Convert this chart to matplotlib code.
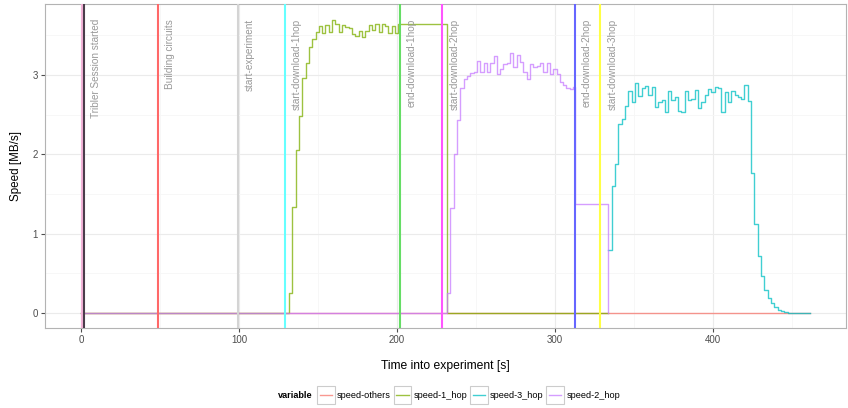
import numpy as np
import matplotlib
matplotlib.use("Agg")
import matplotlib.pyplot as plt
from matplotlib.legend_handler import HandlerBase
from matplotlib.patches import Rectangle
from matplotlib.lines import Line2D

plt.rcParams['font.family'] = ['Liberation Sans', 'DejaVu Sans']

# speed samples are taken roughly every 2.1 s
sample_step = 2.1

# speed-others stays flat for the whole run
others_time = [0.25, 461.3]
others_speed = [0.0, 0.0]

# 1 hop download
hop1_start = 131.7
hop1_speed = [0.256, 1.34, 2.06, 2.48, 2.96, 3.15, 3.35, 3.45, 3.55, 3.62,
              3.535, 3.63, 3.55, 3.70, 3.65, 3.55, 3.63, 3.61, 3.60, 3.52,
              3.49, 3.56, 3.48, 3.56, 3.63, 3.57, 3.64, 3.55, 3.64, 3.62,
              3.535, 3.62, 3.535, 3.65]
hop1_drop = 232.0
hop1_end = 333.8

# 2 hop download
hop2_start = 231.8
hop2_speed = [0.25, 1.33, 2.0, 2.434, 2.833, 2.947, 2.988, 3.022, 3.043, 3.183,
              3.043, 3.157, 3.043, 3.157, 3.241, 3.010, 3.073, 3.140, 3.148,
              3.274, 3.106, 3.254, 3.170, 3.043, 2.947, 3.140, 3.106, 3.115,
              3.148, 3.043, 3.157, 3.014, 3.073, 3.010, 2.917, 2.875, 2.833,
              2.821, 2.846]
hop2_tail_time = [312.8, 333.8]
hop2_tail_speed = [1.37, 0.0]

# 3 hop download
hop3_start = 334.0
hop3_speed = [0.79, 1.6, 1.875, 2.38, 2.447, 2.61, 2.804, 2.657, 2.896, 2.741,
              2.833, 2.867, 2.749, 2.854, 2.602, 2.665, 2.686, 2.531, 2.804,
              2.686, 2.728, 2.547, 2.539, 2.800, 2.686, 2.699, 2.812, 2.581,
              2.665, 2.749, 2.825, 2.791, 2.854, 2.842, 2.539, 2.791, 2.665,
              2.800, 2.749, 2.728, 2.699, 2.875, 2.674, 1.76, 1.12, 0.72,
              0.47, 0.29, 0.185, 0.12, 0.07, 0.04, 0.025, 0.012, 0.005,
              0.002, 0.0]
hop3_end = 461.3

# experiment events
event_times = [0.5, 2.1, 48.9, 99.3, 129.1, 202.0, 228.9, 312.9, 328.9]
event_labels = ['', 'Tribler Session started', 'Building circuits',
                'start-experiment', 'start-download-1hop', 'end-download-1hop',
                'start-download-2hop', 'end-download-2hop', 'start-download-3hop']
event_colors = ['#f3b3d8', '#4b3d4b', '#ff6868', '#d4d4d4', '#66ffff',
                '#66dd66', '#ff55ff', '#6666ff', '#ffff44']

series_names = ['speed-others', 'speed-1_hop', 'speed-3_hop', 'speed-2_hop']
series_colors = ['#F8766D', '#7CAE00', '#00BFC4', '#C77CFF']

# build step series
t1 = [0.25] + list(hop1_start + sample_step * np.arange(len(hop1_speed))) + [hop1_drop, hop1_end]
v1 = [0.0] + hop1_speed + [0.0, 0.0]
t2 = [0.25] + list(hop2_start + sample_step * np.arange(len(hop2_speed))) + hop2_tail_time
v2 = [0.0] + hop2_speed + hop2_tail_speed
t3 = list(hop3_start + sample_step * np.arange(len(hop3_speed))) + [hop3_end]
v3 = hop3_speed + [0.0]

series = {
    'speed-others': (others_time, others_speed),
    'speed-1_hop': (t1, v1),
    'speed-3_hop': (t3, v3),
    'speed-2_hop': (t2, v2),
}


class KeyBox(HandlerBase):
    # ggplot-like legend key: grey bordered square with a line inside,
    # centred on the label text
    def create_artists(self, legend, orig_handle, xdescent, ydescent,
                       width, height, fontsize, trans):
        yc = 0.33 * fontsize
        box = Rectangle((-xdescent, yc - width / 2), width, width,
                        facecolor='white', edgecolor='#cccccc',
                        linewidth=0.8, transform=trans)
        line = Line2D([-xdescent + 2, -xdescent + width - 2], [yc, yc],
                      color=orig_handle.get_color(), alpha=orig_handle.get_alpha(),
                      linewidth=1.0, transform=trans)
        return [box, line]


fig = plt.figure(figsize=(8.48, 4.08), dpi=100)
ax = fig.add_axes([45 / 848, 1 - 328 / 408, 801 / 848, 324 / 408])

handles = []
for name, color in zip(series_names, series_colors):
    t, v = series[name]
    h, = ax.plot(t, v, drawstyle='steps-post', color=color, lw=1.0, alpha=0.75,
                 zorder=3, label=name)
    handles.append(h)

for t, lab, c in zip(event_times, event_labels, event_colors):
    ax.axvline(t, color=c, lw=1.5, zorder=4)
    if lab:
        ax.text(t + 4.4, 3.71, lab, rotation=90, ha='left', va='top',
                fontsize=7.2, color='#999999', zorder=5)

ax.set_xlim(-22.8, 484.4)
ax.set_ylim(-0.189, 3.897)
ax.set_xticks([0, 100, 200, 300, 400])
ax.set_yticks([0, 1, 2, 3])
ax.set_xticks([50, 150, 250, 350, 450], minor=True)
ax.set_yticks([0.5, 1.5, 2.5, 3.5], minor=True)
ax.grid(which='major', color='#ebebeb', lw=0.8, zorder=0)
ax.grid(which='minor', color='#f6f6f6', lw=0.6, zorder=0)
ax.set_axisbelow(True)
ax.tick_params(which='major', length=3, width=0.8, color='#4d4d4d',
               labelsize=7, labelcolor='#4d4d4d', pad=2)
ax.tick_params(which='minor', length=0)
for s in ax.spines.values():
    s.set_color('#b3b3b3')
    s.set_linewidth(0.8)

ax.set_xlabel('Time into experiment [s]', fontsize=8.7, labelpad=11)
ax.set_ylabel('Speed [MB/s]', fontsize=8.4, labelpad=8)

fig.text(278 / 848, 1 - 395 / 408, 'variable', fontsize=6.6, fontweight='bold',
         ha='left', va='center')
fig.legend(handles=handles, labels=series_names, ncol=4, frameon=False,
           loc='center left', bbox_to_anchor=(317 / 848, 1 - 395 / 408),
           fontsize=6.6, handler_map={Line2D: KeyBox()},
           handlelength=1.93, handleheight=1.9, handletextpad=0.25,
           columnspacing=0.3, borderpad=0, borderaxespad=0)

fig.savefig('out.png', dpi=100)
